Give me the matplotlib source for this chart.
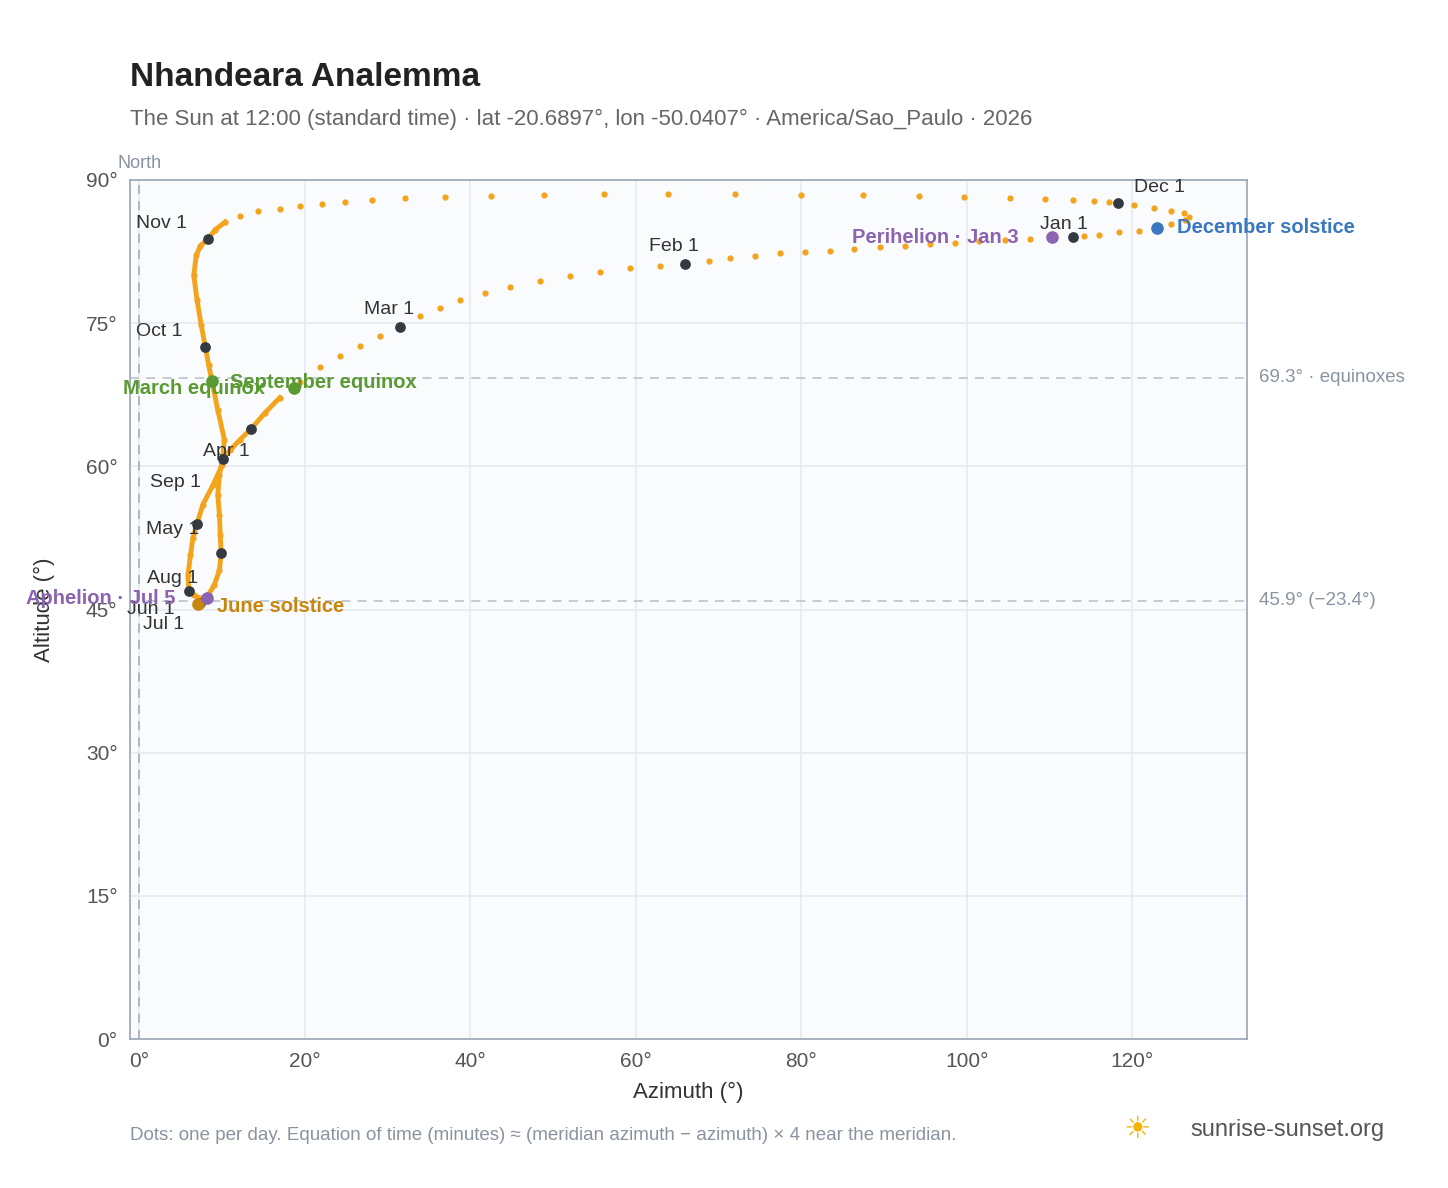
import matplotlib
matplotlib.use("Agg")
import matplotlib.pyplot as plt
plt.rcParams['font.family'] = ['Liberation Sans', 'DejaVu Sans']

az = [112.8,110.3,107.6,104.6,101.5,98.5,95.5,92.5,89.5,86.4,83.4,80.4,77.4,74.4,71.4,68.9,66.0,
      62.9,59.3,55.7,52.0,48.4,44.8,41.8,38.8,36.3,33.9,31.5,
      29.1,26.7,24.3,21.9,19.4,18.7,17.0,15.2,13.5,12.2,11.0,10.1,
      9.7,9.5,9.7,9.8,9.9,
      9.7,9.1,8.2,7.4,7.1,
      7.6,7.3,6.6,6.0,
      5.9,6.2,6.5,7.0,
      7.7,8.9,10.0,10.3,9.5,8.8,8.4,8.0,
      7.5,7.0,6.6,6.9,7.4,8.3,
      9.2,10.4,12.2,14.4,17.0,19.4,22.1,24.9,28.1,32.1,36.9,42.5,48.9,56.1,63.9,72.0,80.0,87.5,94.2,99.7,105.2,109.4,112.8,115.4,117.2,118.2,
      120.2,122.6,124.7,126.2,126.8,126.3,124.7,123.0,120.8,118.4,116.0,114.2]
alt = [84.0,83.9,83.8,83.7,83.6,83.4,83.3,83.1,83.0,82.8,82.6,82.5,82.3,82.0,81.8,81.5,81.2,
       81.0,80.8,80.4,79.9,79.4,78.8,78.2,77.4,76.6,75.8,74.6,
       73.7,72.6,71.6,70.4,68.8,68.2,67.2,65.6,63.9,62.8,61.7,60.8,
       59.1,57.0,54.9,52.8,50.9,
       49.1,47.6,46.3,45.6,45.6,
       45.8,46.2,46.5,46.9,
       48.6,50.7,52.5,54.0,
       56.0,58.0,60.1,62.8,65.9,68.9,70.6,72.5,
       74.8,77.4,80.0,82.1,83.1,83.8,
       84.8,85.6,86.2,86.7,87.0,87.3,87.5,87.7,87.9,88.1,88.2,88.3,88.4,88.5,88.5,88.5,88.4,88.4,88.3,88.2,88.1,88.0,87.9,87.8,87.7,87.6,
       87.4,87.1,86.8,86.5,86.1,85.8,85.4,85.0,84.7,84.5,84.2,84.1]

month_labels = ["Jan 1","Feb 1","Mar 1","Apr 1","May 1","Jun 1","Jul 1","Aug 1","Sep 1","Oct 1","Nov 1","Dec 1"]
month_az = [112.8,66.0,31.5,10.1,9.9,7.3,7.2,6.0,7.0,8.0,8.3,118.2]
month_alt = [84.0,81.2,74.6,60.8,50.9,45.7,45.6,46.9,54.0,72.5,83.8,87.6]
month_off = [(-24,6),(-26,9),(-26,9),(-14,2),(-54,14),(-52,-8),(-40,-18),(-30,6),(-34,26),(-50,8),(-52,8),(12,8)]
extra_az, extra_alt = [13.5], [63.9]

events = ["March equinox","September equinox","June solstice","December solstice","Aphelion · Jul 5","Perihelion · Jan 3"]
ev_az = [8.8,18.7,7.1,123.0,8.2,110.3]
ev_alt = [68.9,68.2,45.6,85.0,46.2,84.0]
ev_col = ["#5a9a32","#5a9a32","#c8860c","#3a78c0","#8b63b0","#8b63b0"]
ev_off = [(-64,-9),(-46,0),(14,-6),(14,-4),(-130,-4),(-144,-4)]

fig = plt.figure(figsize=(14.48,11.88), dpi=100)
ax = fig.add_axes([0.0898,0.1254,0.7712,0.7231])
ax.set_facecolor("#f9fbfd")
ax.set_xlim(-1.1,133.8); ax.set_ylim(0,90)
ax.set_xticks(range(0,121,20)); ax.set_xticklabels([f"{v}°" for v in range(0,121,20)])
ax.set_yticks(range(0,91,15)); ax.set_yticklabels([f"{v}°" for v in range(0,91,15)])
ax.grid(color="#e6e9ee", lw=1.2); ax.set_axisbelow(True)
for s in ax.spines.values(): s.set_color("#9aa5b4"); s.set_linewidth(1.2)
ax.tick_params(colors="#555", labelsize=15, length=0, pad=9)
ax.set_xlabel("Azimuth (°)", fontsize=16, color="#333", labelpad=8)
ax.set_ylabel("Altitude (°)", fontsize=16, color="#333", labelpad=22)

ax.axvline(0, color="#aab2bd", ls=(0,(5,4)), lw=1.3)
ax.text(0, 90.8, "North", ha="center", va="bottom", color="#8a93a0", fontsize=13)
for y, lab in [(69.3,"69.3° · equinoxes"),(45.9,"45.9° (−23.4°)")]:
    ax.axhline(y, color="#c0c6ce", ls=(0,(5,4)), lw=1.3)
    ax.text(135.3, y, lab, va="center", color="#8a93a0", fontsize=13.5)

ax.plot(az[34:74], alt[34:74], color="#f4a41c", lw=3.5, zorder=2)
ax.scatter(az, alt, s=12, color="#f4a41c", zorder=3)

ax.scatter(month_az, month_alt, s=45, color="#333a42", zorder=5)
ax.scatter(extra_az, extra_alt, s=45, color="#333a42", zorder=5)
for l, x, y, o in zip(month_labels, month_az, month_alt, month_off):
    ax.annotate(l, (x,y), xytext=o, textcoords="offset points", fontsize=14, color="#333", zorder=6)
for l, x, y, c, o in zip(events, ev_az, ev_alt, ev_col, ev_off):
    ax.scatter([x],[y], s=65, color=c, zorder=6)
    ax.annotate(l, (x,y), xytext=o, textcoords="offset points", fontsize=14.5, color=c, fontweight="bold", zorder=7)

fig.text(0.0898, 0.928, "Nhandeara Analemma", fontsize=24, fontweight="bold", color="#222")
fig.text(0.0898, 0.895, "The Sun at 12:00 (standard time) · lat -20.6897°, lon -50.0407° · America/Sao_Paulo · 2026", fontsize=16, color="#666")
fig.text(0.0898, 0.040, "Dots: one per day. Equation of time (minutes) ≈ (meridian azimuth − azimuth) × 4 near the meridian.", fontsize=13.5, color="#8a93a0")
fig.text(0.822, 0.044, "sunrise-sunset.org", fontsize=17, color="#555")
fig.text(0.776, 0.042, "☀", fontsize=22, color="#f4b400", family=["DejaVu Sans"])
fig.savefig("out.png", dpi=100)
